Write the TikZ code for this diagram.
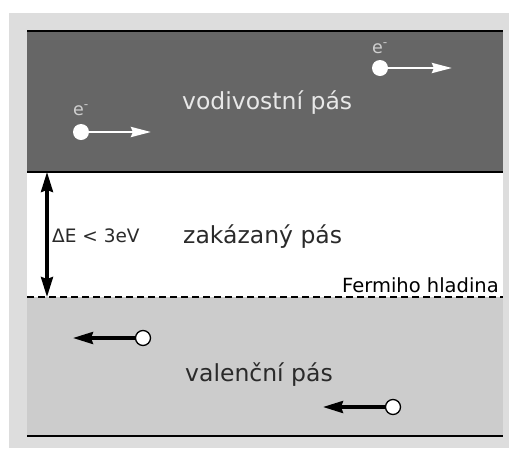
\documentclass[tikz,border=0pt]{standalone}
\usepackage{fontspec}
\setmainfont{DejaVu Sans}
\usetikzlibrary{arrows.meta}
\definecolor{outergray}{HTML}{DDDDDD}
\definecolor{darkband}{HTML}{666666}
\definecolor{lightband}{HTML}{CCCCCC}
\definecolor{lighttext}{HTML}{E8E8E8}
\definecolor{etext}{HTML}{CFCFCF}
\definecolor{darktext}{HTML}{2A2A2A}
\tikzset{
  bandline/.style={line width=1.6pt, black},
  fermiline/.style={line width=1.5pt, black, dash pattern=on 7pt off 4pt},
  electron/.style={circle, fill=white, inner sep=0pt, minimum size=16pt},
  hole/.style={circle, fill=white, draw=black, line width=1.3pt, inner sep=0pt, minimum size=15pt},
  earrow/.style={white, line width=2.8pt, -{Stealth[length=20pt, width=10pt, inset=2pt]}},
  harrow/.style={black, line width=3.2pt, -{Stealth[length=20pt, width=12pt, inset=2pt]}},
  gaparrow/.style={black, line width=3.2pt, {Stealth[length=20pt, width=12pt, inset=2pt]}-{Stealth[length=20pt, width=12pt, inset=2pt]}},
  bandlabel/.style={anchor=base west, inner sep=0pt, font=\fontsize{23.5}{28}\selectfont},
  elabel/.style={anchor=base west, inner sep=0pt, text=etext, font=\fontsize{17.5}{20}\selectfont},
}
\begin{document}
\begin{tikzpicture}[x=1pt, y=-1pt]
\useasboundingbox (0,0) rectangle (509,448);
% backgrounds
\fill[outergray] (9,13) rectangle (509,448);
\fill[darkband] (27,31) rectangle (503,172);
\fill[white] (27,172) rectangle (503,297);
\fill[lightband] (27,297) rectangle (503,436);
\draw[bandline] (27,31) -- (503,31);
\draw[bandline] (27,172) -- (503,172);
\draw[bandline] (27,436) -- (503,436);
\draw[fermiline] (27,297) -- (503,297);

% band labels
\node[bandlabel, text=lighttext] (cb) at (182,109) {vodivostní pás};
\node[bandlabel, text=darktext] (gap) at (183,243) {zakázaný pás};
\node[bandlabel, text=darktext] (vb) at (185,381) {valenční pás};
\node[anchor=base west, inner sep=0pt, text=darktext, font=\fontsize{18.5}{22}\selectfont] (de) at (52,242) {ΔE < 3eV};
\node[anchor=base west, inner sep=0pt, text=black, font=\fontsize{19.5}{23}\selectfont] (fermi) at (342,292) {Fermiho hladina};

% energy gap arrow
\coordinate (gtop) at (47,172);
\coordinate (gbot) at (47,297);
\draw[gaparrow] (gtop) -- (gbot);

% electrons
\node[elabel] (el1) at (372,53) {e\textsuperscript{-}};
\node[electron] (e1) at (380,68) {};
\coordinate (e1end) at (452,68);
\draw[earrow] (e1.center) -- (e1end);

\node[elabel] (el2) at (73,115) {e\textsuperscript{-}};
\node[electron] (e2) at (81,132) {};
\coordinate (e2end) at (151,132);
\draw[earrow] (e2.center) -- (e2end);

% holes
\coordinate (h1end) at (73,338);
\node[hole] (h1) at (143,338) {};
\draw[harrow] (h1) -- (h1end);

\coordinate (h2end) at (323,407);
\node[hole] (h2) at (393,407) {};
\draw[harrow] (h2) -- (h2end);
\end{tikzpicture}
\end{document}
